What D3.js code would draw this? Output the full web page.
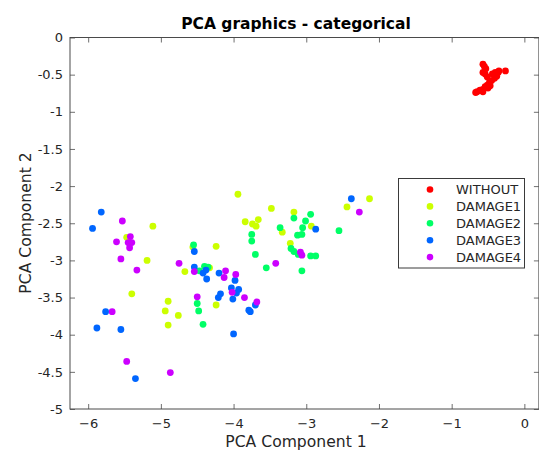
<!DOCTYPE html>
<html>
<head>
<meta charset="utf-8">
<script src="https://cdn.jsdelivr.net/npm/d3@7"></script>
<style>
  html, body { margin: 0; padding: 0; background: #fff; }
  svg { display: block; font-family: "DejaVu Sans", sans-serif; }
</style>
</head>
<body>
<script>
// Group names and marker colours (hsv colormap, 5 groups)
const groups = ["WITHOUT", "DAMAGE1", "DAMAGE2", "DAMAGE3", "DAMAGE4"];
const groupColors = ["#ff0000", "#ccff00", "#00ff66", "#0066ff", "#cc00ff"];

// PCA scores per group: component 1 (x) and component 2 (y)
const withoutX = [-0.57,-0.55,-0.53,-0.57,-0.54,-0.51,-0.44,-0.40,-0.36,-0.35,-0.26,-0.38,-0.41,-0.45,-0.48,-0.51,-0.54,-0.57,-0.61,-0.65,-0.67,-0.50,-0.47,-0.57];
const withoutY = [-0.36,-0.39,-0.42,-0.47,-0.49,-0.53,-0.49,-0.47,-0.47,-0.45,-0.45,-0.52,-0.55,-0.58,-0.60,-0.64,-0.66,-0.70,-0.71,-0.73,-0.74,-0.68,-0.65,-0.73];

const damage1X = [-5.11,-5.47,-5.19,-4.67,-5.40,-4.90,-4.94,-4.76,-4.90,-4.24,-4.33,-4.24,-3.94,-3.48,-3.84,-3.66,-3.74,-3.69,-3.17,-3.33,-2.93,-3.22,-2.44,-2.13,-4.56];
const damage1Y = [-2.54,-2.69,-3.00,-3.15,-3.45,-3.55,-3.68,-3.74,-3.87,-2.81,-3.10,-3.60,-2.11,-2.30,-2.48,-2.45,-2.51,-2.54,-2.35,-2.62,-2.54,-2.77,-2.28,-2.17,-2.82];

const damage2X = [-4.55,-4.50,-4.48,-3.75,-3.75,-3.70,-4.47,-4.40,-4.35,-3.55,-4.42,-3.17,-2.94,-3.01,-3.05,-3.36,-3.12,-3.06,-3.21,-3.17,-3.11,-2.94,-2.87,-3.06,-2.55];
const damage2Y = [-2.79,-3.58,-3.68,-2.65,-2.74,-2.92,-3.14,-3.08,-3.09,-3.10,-3.86,-2.43,-2.38,-2.47,-2.56,-2.56,-2.66,-2.65,-2.84,-2.88,-2.92,-2.94,-2.94,-3.14,-2.60];

const damage3X = [-5.82,-5.94,-4.54,-4.54,-5.76,-5.88,-5.55,-5.35,-4.38,-4.42,-4.37,-4.20,-3.98,-4.03,-3.93,-3.96,-4.18,-4.21,-4.01,-3.70,-3.79,-3.77,-4.00,-2.87,-2.38];
const damage3Y = [-2.35,-2.57,-2.88,-3.09,-3.69,-3.91,-3.93,-4.59,-3.13,-3.17,-3.25,-3.17,-3.27,-3.37,-3.39,-3.44,-3.45,-3.50,-3.52,-3.60,-3.67,-3.69,-3.99,-2.58,-2.17];

const damage4X = [-5.53,-5.42,-5.61,-5.45,-5.40,-5.43,-5.55,-5.33,-4.75,-4.54,-5.67,-5.47,-4.87,-4.50,-4.11,-4.13,-3.97,-4.02,-3.85,-3.68,-3.42,-3.08,-3.06,-2.27];
const damage4Y = [-2.47,-2.68,-2.75,-2.76,-2.76,-2.83,-2.98,-3.13,-3.04,-3.15,-3.69,-4.36,-4.51,-3.49,-3.14,-3.23,-3.19,-3.43,-3.50,-3.56,-3.04,-2.89,-2.93,-2.35];

const xTicks = [-6, -5, -4, -3, -2, -1, 0];
const yTicks = [0, -0.5, -1, -1.5, -2, -2.5, -3, -3.5, -4, -4.5, -5];

const seriesX = [withoutX, damage1X, damage2X, damage3X, damage4X];
const seriesY = [withoutY, damage1Y, damage2Y, damage3Y, damage4Y];

const W = 539, H = 453;
const box = { left: 70, top: 37.5, right: 538.9, bottom: 409 };
const axisColor = "#4a4a4a";
const textColor = "#262626";

const svg = d3.select("body").append("svg").attr("width", W).attr("height", H);
svg.append("rect").attr("width", W).attr("height", H).attr("fill", "#fff");

const x = d3.scaleLinear().domain([-6.25, 0.2]).range([box.left, box.right]);
const y = d3.scaleLinear().domain([-5, 0]).range([box.bottom, box.top]);

// Points, drawn group by group so later groups sit on top
const plot = svg.append("g");
groups.forEach((g, i) => {
  const pts = seriesX[i].map((v, k) => [v, seriesY[i][k]]);
  plot.selectAll(null).data(pts).enter().append("circle")
    .attr("cx", d => x(d[0]))
    .attr("cy", d => y(d[1]))
    .attr("r", 3.4)
    .attr("fill", groupColors[i]);
});

// Axes (ticks point inward, box on all sides)
const tickLen = 5;
const xAxisB = d3.axisBottom(x).tickValues(xTicks).tickSize(-tickLen).tickPadding(10).tickFormat(d3.format("d"));
const xAxisT = d3.axisTop(x).tickValues(xTicks).tickSize(-tickLen).tickFormat("");
const yAxisL = d3.axisLeft(y).tickValues(yTicks).tickSize(-tickLen).tickPadding(7).tickFormat(d => String(d));
const yAxisR = d3.axisRight(y).tickValues(yTicks).tickSize(-tickLen).tickFormat("");

function styleAxis(g) {
  g.select(".domain").remove();
  g.selectAll(".tick line").attr("stroke", axisColor).attr("stroke-width", 0.8);
  g.selectAll(".tick text").attr("fill", textColor).attr("font-size", 13)
    .attr("font-family", "DejaVu Sans, sans-serif");
}

svg.append("g").attr("transform", `translate(0,${box.bottom})`).call(xAxisB).call(styleAxis);
svg.append("g").attr("transform", `translate(0,${box.top})`).call(xAxisT).call(styleAxis);
svg.append("g").attr("transform", `translate(${box.left},0)`).call(yAxisL).call(styleAxis);
svg.append("g").attr("transform", `translate(${box.right},0)`).call(yAxisR).call(styleAxis);

svg.append("rect")
  .attr("x", box.left).attr("y", box.top)
  .attr("width", box.right - box.left).attr("height", box.bottom - box.top)
  .attr("fill", "none").attr("stroke", axisColor).attr("stroke-width", 1);

// Title and axis labels
svg.append("text").attr("x", 296).attr("y", 29).attr("text-anchor", "middle")
  .attr("font-size", 15.5).attr("font-weight", "bold").attr("fill", "#000")
  .text("PCA graphics - categorical");

svg.append("text").attr("x", 296).attr("y", 447).attr("text-anchor", "middle")
  .attr("font-size", 15.6).attr("fill", textColor).text("PCA Component 1");

svg.append("text").attr("transform", "translate(31,223) rotate(-90)").attr("text-anchor", "middle")
  .attr("font-size", 15.6).attr("fill", textColor).text("PCA Component 2");

// Legend
const lg = svg.append("g");
lg.append("rect").attr("x", 398.5).attr("y", 178.5).attr("width", 126).attr("height", 89.5)
  .attr("fill", "#fff").attr("stroke", "#3a3a3a").attr("stroke-width", 1);
groups.forEach((g, i) => {
  const cy = 189.5 + i * 16.9;
  lg.append("circle").attr("cx", 430).attr("cy", cy).attr("r", 3.3).attr("fill", groupColors[i]);
  lg.append("text").attr("x", 456).attr("y", cy + 4.6).attr("font-size", 13)
    .attr("fill", textColor).text(g);
});
</script>
</body>
</html>
